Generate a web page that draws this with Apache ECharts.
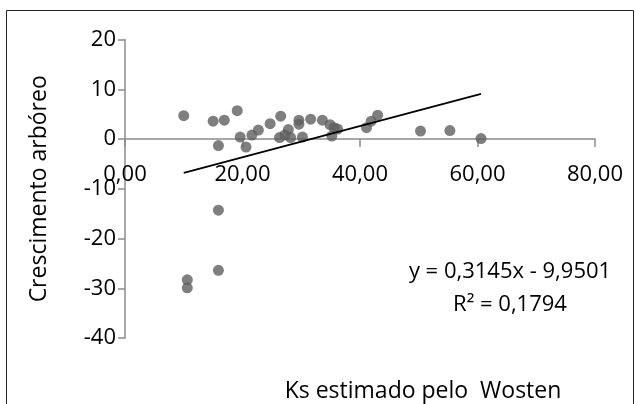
<!DOCTYPE html>
<html>
<head>
<meta charset="utf-8">
<script src="https://cdn.jsdelivr.net/npm/echarts@6/dist/echarts.min.js"></script>
<style>
  html, body { margin: 0; padding: 0; background: #fff; }
  #chart { width: 635px; height: 404px; }
</style>
</head>
<body>
<div id="chart"></div>
<script>
// Ks estimado (x) e crescimento arbóreo (y)
const ksValues = [10.0, 15.0, 16.9, 15.9, 19.1, 19.6, 20.6, 21.6, 22.7, 24.7,
  26.5, 26.3, 27.2, 27.8, 28.2, 29.6, 29.6, 30.2, 31.6, 33.6,
  34.9, 35.2, 35.6, 36.2, 41.1, 41.9, 43.0, 50.3, 55.3, 60.6,
  15.9, 15.9, 10.6, 10.6];
const growthValues = [4.7, 3.6, 3.8, -1.3, 5.7, 0.4, -1.6, 0.8, 1.8, 3.1,
  4.6, 0.3, 0.8, 1.9, 0.3, 3.8, 3.0, 0.4, 4.0, 3.8,
  2.9, 0.6, 2.3, 2.0, 2.3, 3.6, 4.8, 1.6, 1.7, 0.1,
  -14.3, -26.4, -28.3, -29.9];
const xTickLabels = ['0,00', '20,00', '40,00', '60,00', '80,00'];
const yTickLabels = ['-40', '-30', '-20', '-10', '0', '10', '20'];
// linha de tendência (Excel)
const trendSlope = 0.3145;
const trendIntercept = -9.9501;
const trendText = ['y = 0,3145x - 9,9501', 'R² = 0,1794'];

const points = ksValues.map((x, i) => [x, growthValues[i]]);
const xMin = Math.min(...ksValues);
const xMax = Math.max(...ksValues);
const trendLine = [xMin, xMax].map((x) => [x, trendSlope * x + trendIntercept]);

const font = '"Open Sans", sans-serif';
const axisColor = '#8c8c8c';

// área do gráfico
const gridTop = 39.6;
const gridBottom = 66;
const gridHeight = 404 - gridTop - gridBottom;
// eixo x passa pelo zero: desloca-o para cima a partir da base
const yMin = -40, yMax = 20;
const xAxisOffset = -gridHeight * (0 - yMin) / (yMax - yMin);

const chart = echarts.init(document.getElementById('chart'));
chart.setOption({
  animation: false,
  grid: {
    left: 125, right: 40, top: gridTop, bottom: gridBottom,
    containLabel: false,
    outerBoundsMode: 'none'
  },
  xAxis: {
    type: 'value',
    position: 'bottom',
    offset: xAxisOffset,
    min: 0, max: 80, interval: 20,
    axisLine: { onZero: false, lineStyle: { color: axisColor, width: 1.5 } },
    axisTick: { show: true, length: 8, lineStyle: { color: axisColor, width: 1.5 } },
    axisLabel: {
      fontFamily: font, fontSize: 22, color: '#000', margin: 25,
      formatter: (v) => xTickLabels[Math.round(v / 20)]
    },
    splitLine: { show: false }
  },
  yAxis: {
    type: 'value',
    min: yMin, max: yMax, interval: 10,
    name: 'Crescimento arbóreo',
    nameLocation: 'middle',
    nameGap: 74,
    nameTextStyle: { fontFamily: font, fontSize: 23, color: '#000' },
    axisLine: { show: true, onZero: false, lineStyle: { color: axisColor, width: 1.5 } },
    axisTick: { show: true, length: 7, lineStyle: { color: axisColor, width: 1.5 } },
    axisLabel: {
      fontFamily: font, fontSize: 22, color: '#000', margin: 9,
      formatter: (v) => yTickLabels[Math.round((v - yMin) / 10)]
    },
    splitLine: { show: false }
  },
  series: [
    {
      type: 'scatter',
      data: points,
      symbolSize: 11,
      itemStyle: { color: '#5f5f5f' },
      z: 3
    },
    {
      type: 'line',
      data: trendLine,
      symbol: 'none',
      lineStyle: { color: '#000', width: 1.8 },
      z: 4
    }
  ],
  graphic: [
    {
      type: 'rect',
      shape: { x: 6.5, y: 10.5, width: 627, height: 410 },
      style: { fill: 'none', stroke: '#222', lineWidth: 1 },
      silent: true
    },
    {
      type: 'text',
      x: 423, y: 391,
      style: {
        text: 'Ks estimado pelo  Wosten',
        fontFamily: font, fontSize: 23, fill: '#000',
        align: 'center', verticalAlign: 'middle'
      }
    },
    {
      type: 'text',
      x: 510, y: 288,
      style: {
        text: trendText.join('\n'),
        fontFamily: font, fontSize: 22, fill: '#000',
        align: 'center', verticalAlign: 'middle', lineHeight: 33
      }
    }
  ]
});
</script>
</body>
</html>
